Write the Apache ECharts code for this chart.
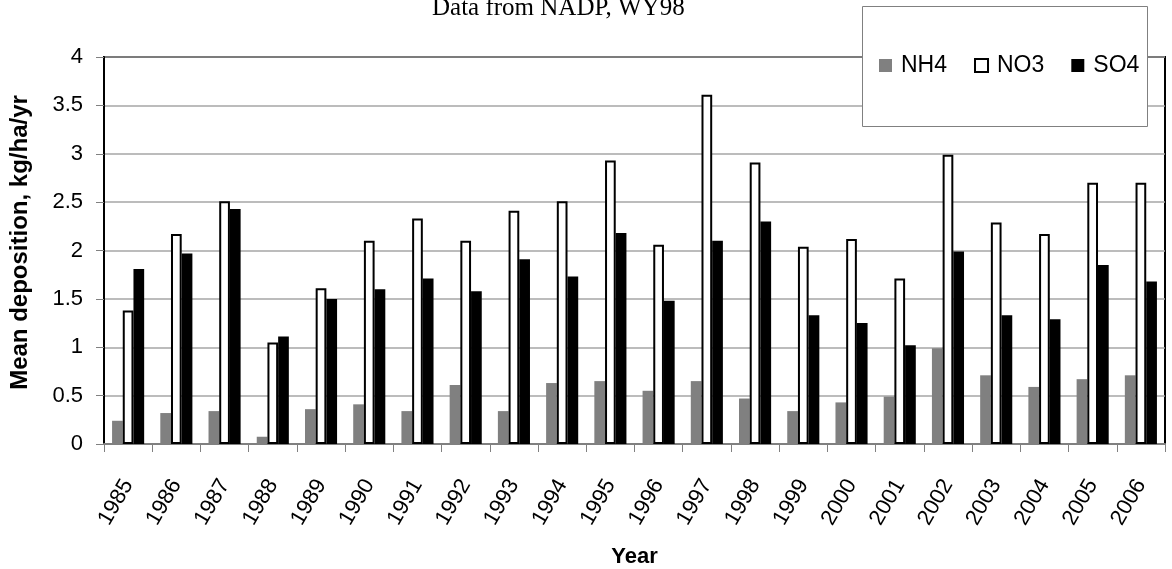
<!DOCTYPE html>
<html>
<head>
<meta charset="utf-8">
<script src="https://cdn.jsdelivr.net/npm/echarts@6/dist/echarts.min.js"></script>
<style>
html,body{margin:0;padding:0;background:#fff;}
#chart{width:1172px;height:569px;}
</style>
</head>
<body>
<div id="chart"></div>
<script>
const years = ['1985','1986','1987','1988','1989','1990','1991','1992','1993','1994','1995','1996','1997','1998','1999','2000','2001','2002','2003','2004','2005','2006'];
const nh4 = [0.24,0.32,0.34,0.075,0.36,0.41,0.34,0.61,0.34,0.63,0.65,0.55,0.65,0.47,0.34,0.43,0.49,0.99,0.71,0.59,0.67,0.71];
const no3 = [1.38,2.17,2.51,1.05,1.61,2.10,2.33,2.10,2.41,2.51,2.93,2.06,3.61,2.91,2.04,2.12,1.71,2.99,2.29,2.17,2.70,2.70];
const so4 = [1.81,1.97,2.43,1.11,1.50,1.60,1.71,1.58,1.91,1.73,2.18,1.48,2.10,2.30,1.33,1.25,1.02,1.99,1.33,1.29,1.85,1.68];
const yTicks = ['0','0.5','1','1.5','2','2.5','3','3.5','4'];

const chart = echarts.init(document.getElementById('chart'), null, {renderer:'canvas'});
const sans = 'Liberation Sans, Arial, sans-serif';
chart.setOption({
  animation: false,
  backgroundColor: '#fff',
  title: {
    text: 'Data from NADP, WY98',
    left: 432, top: -4, padding: 0,
    textStyle: {fontFamily: 'Liberation Serif, Times New Roman, serif', fontWeight: 'normal', fontSize: 25, color: '#000'}
  },
  graphic: [{
    type: 'rect', z: 50,
    shape: {x: 862.5, y: 6.5, width: 285, height: 120},
    style: {fill: '#fff', stroke: '#808080', lineWidth: 1}
  }],
  legend: {
    z: 60,
    left: 879, top: 54, padding: 0,
    itemWidth: 13, itemHeight: 13, itemGap: 27,
    icon: 'rect',
    textStyle: {fontFamily: sans, fontSize: 23, color: '#000', padding: [0,0,0,4]},
    data: ['NH4','NO3','SO4']
  },
  grid: {
    left: 104, right: 7, top: 57, bottom: 125,
    containLabel: false, outerBoundsMode: 'none',
    show: true, borderColor: '#000', borderWidth: 2, backgroundColor: 'transparent'
  },
  xAxis: {
    type: 'category', data: years,
    name: 'Year', nameLocation: 'middle', nameGap: 102,
    nameTextStyle: {fontFamily: sans, fontSize: 22, fontWeight: 'bold', color: '#000'},
    axisLine: {lineStyle: {color: '#808080', width: 2}},
    axisTick: {show: true, length: 8, lineStyle: {color: '#808080', width: 1}},
    axisLabel: {rotate: 60, margin: 37, fontFamily: sans, fontSize: 22, color: '#000', interval: 0}
  },
  yAxis: {
    type: 'value', min: 0, max: 4, interval: 0.5,
    name: 'Mean deposition, kg/ha/yr', nameLocation: 'middle', nameGap: 72,
    nameTextStyle: {fontFamily: sans, fontSize: 24, fontWeight: 'bold', color: '#000', padding: [0,0,0,16]},
    axisLine: {show: true, lineStyle: {color: '#000', width: 2}},
    axisTick: {show: true, length: 8, lineStyle: {color: '#808080', width: 1}},
    axisLabel: {margin: 21, fontFamily: sans, fontSize: 22, color: '#000',
      formatter: function(v){ return yTicks[Math.round(v/0.5)]; }},
    splitLine: {show: true, lineStyle: {color: '#a6a6a6', width: 1.5}}
  },
  series: [
    {name: 'NH4', type: 'bar', data: nh4, barWidth: 10.7, barGap: '0%',
     itemStyle: {color: '#808080'}},
    {name: 'NO3', type: 'bar', data: no3, barWidth: 10.7, barGap: '0%',
     itemStyle: {color: '#ffffff', borderColor: '#000', borderWidth: 2}},
    {name: 'SO4', type: 'bar', data: so4, barWidth: 10.7, barGap: '0%',
     itemStyle: {color: '#000000'}}
  ]
});
</script>
</body>
</html>
